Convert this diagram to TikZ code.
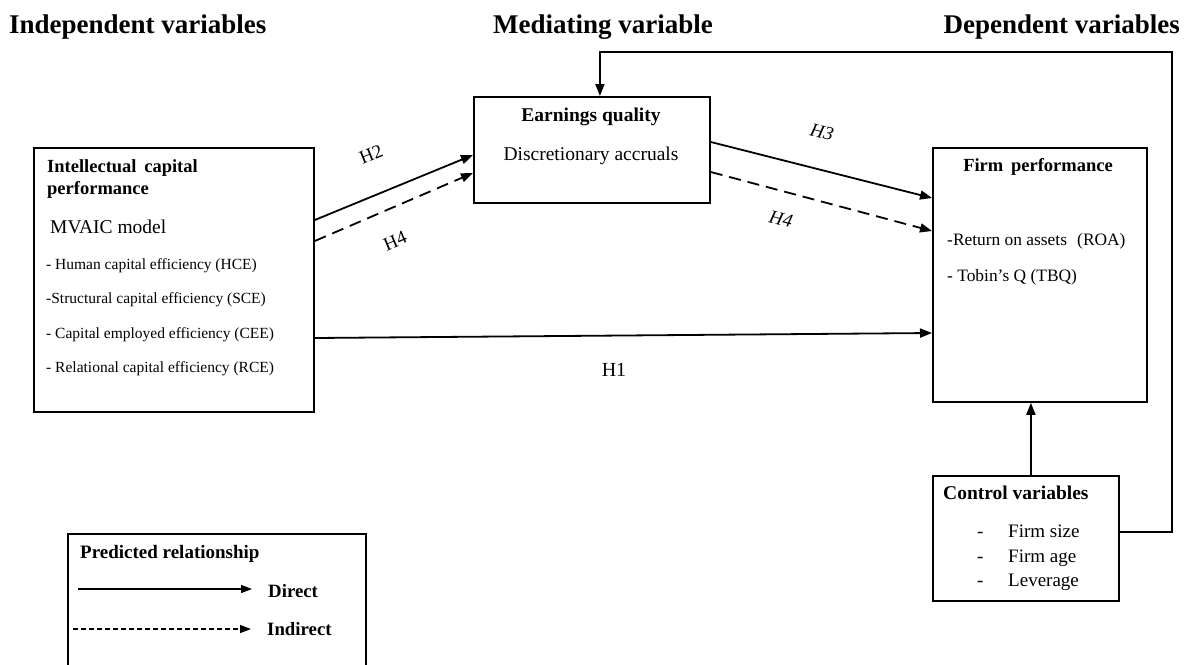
\documentclass[tikz,border=0pt]{standalone}
\usepackage{fontspec}
\setmainfont{Liberation Serif}
\usetikzlibrary{arrows.meta}
\newcommand\myfs[1]{\fontsize{#1}{#1}\selectfont}
\tikzset{
  box/.style={draw, line width=1.8pt, inner sep=0pt, rectangle},
  arr/.style={line width=1.8pt, -{Triangle[length=12pt,width=9pt]}},
  dsh/.style={arr, dash pattern=on 12pt off 7pt},
  larr/.style={line width=1.2pt, -{Triangle[length=11pt,width=8pt]}},
  ldsh/.style={larr, dash pattern=on 5pt off 3pt},
  txt/.style={inner sep=0pt, anchor=base west, font=\myfs{15.5}},
  bt/.style={inner sep=0pt, anchor=base west, font=\bfseries\myfs{18.5}},
  hdr/.style={inner sep=0pt, anchor=base west, font=\bfseries\myfs{27}},
  hl/.style={inner sep=0pt, font=\myfs{19}},
}
\begin{document}
\begin{tikzpicture}[x=1pt,y=-1pt]
\useasboundingbox (0,0) rectangle (1190,664);
% headers
\node[hdr] (h1) at (9,33) {Independent variables};
\node[hdr, anchor=base east] (h2) at (713,33) {Mediating variable};
\node[hdr, anchor=base east] (h3) at (1180,33) {Dependent variables};
% boxes
\node[box, minimum width=280pt, minimum height=264pt, anchor=north west] (ic) at (33,147) {};
\node[box, minimum width=236pt, minimum height=106pt, anchor=north west] (eq) at (473,96) {};
\node[box, minimum width=214pt, minimum height=254pt, anchor=north west] (fp) at (932,147) {};
\node[box, minimum width=186pt, minimum height=125pt, anchor=north west] (cv) at (932,475) {};
\node[box, minimum width=298pt, minimum height=160pt, anchor=north west] (leg) at (67,533) {};
% IC texts
\node[bt] (ic1) at (47,172) {Intellectual\, capital};
\node[bt] (ic2) at (47,194) {performance};
\node[txt, font=\myfs{19.5}] (ic3) at (50,233) {MVAIC model};
\node[txt] (ic4) at (46,269) {- Human capital efficiency (HCE)};
\node[txt] (ic5) at (46,303) {-Structural capital efficiency (SCE)};
\node[txt] (ic6) at (46,338) {- Capital employed efficiency (CEE)};
\node[txt] (ic7) at (46,372) {- Relational capital efficiency (RCE)};
% EQ texts
\node[bt, anchor=base, font=\bfseries\myfs{19.5}] (eq1) at (591,121) {Earnings quality};
\node[txt, anchor=base, font=\myfs{19.5}] (eq2) at (591,160) {Discretionary accruals};
% FP texts
\node[bt, anchor=base] (fp1) at (1038,171) {Firm\, performance};
\node[txt, font=\myfs{17.4}] (fp2) at (947,245) {-Return on assets\,\, (ROA)};
\node[txt, font=\myfs{17.4}] (fp3) at (947,281) {- Tobin's Q (TBQ)};
% CV texts
\node[bt, font=\bfseries\myfs{19.5}] (cv1) at (943,499) {Control variables};
\node[txt, font=\myfs{19}] (cvd1) at (977,537) {-};
\node[txt, font=\myfs{19}] (cvd2) at (977,562) {-};
\node[txt, font=\myfs{19}] (cvd3) at (977,586) {-};
\node[txt, font=\myfs{19}] (cv2) at (1008,537) {Firm size};
\node[txt, font=\myfs{19}] (cv3) at (1008,562) {Firm age};
\node[txt, font=\myfs{19}] (cv4) at (1008,586) {Leverage};
% legend texts
\node[bt, font=\bfseries\myfs{19}] (lg1) at (80,558) {Predicted relationship};
\node[bt, font=\bfseries\myfs{18.8}] (lg2) at (268,597) {Direct};
\node[bt, font=\bfseries\myfs{18.8}] (lg3) at (267,635) {Indirect};
\coordinate (ls1) at (78,589);
\coordinate (le1) at (252,589);
\coordinate (ls2) at (73,629);
\coordinate (le2) at (251,629);
\draw[larr] (ls1) -- (le1);
\draw[ldsh] (ls2) -- (le2);
% connectors
\draw[arr] ([yshift=-73pt]ic.north east) -- ([yshift=-59pt]eq.north west);
\draw[dsh] ([yshift=-94pt]ic.north east) -- ([yshift=-77pt]eq.north west);
\draw[arr] ([yshift=-46pt]eq.north east) -- ([yshift=-51pt]fp.north west);
\draw[dsh] ([yshift=-76pt]eq.north east) -- ([yshift=-84pt]fp.north west);
\draw[arr] ([yshift=-191pt]ic.north east) -- ([yshift=-186pt]fp.north west);
\draw[arr] ([xshift=5pt]cv.north) -- ([xshift=5pt]cv.north |- fp.south);
\coordinate (fbc) at (1172,52);
\draw[arr] ([yshift=-57pt]cv.north east) -| (fbc) -| ([xshift=8pt]eq.north);
% hypothesis labels
\node[hl, rotate=22] (H2) at (371,154) {H2};
\node[hl, rotate=23] (H4a) at (395,241) {H4};
\node[hl, rotate=-14, font=\itshape\myfs{19}] (H3) at (822,132) {H3};
\node[hl, rotate=-14, font=\itshape\myfs{19}] (H4b) at (781,219) {H4};
\node[hl, font=\myfs{20}] (H1) at (614,370) {H1};
\end{tikzpicture}
\end{document}
